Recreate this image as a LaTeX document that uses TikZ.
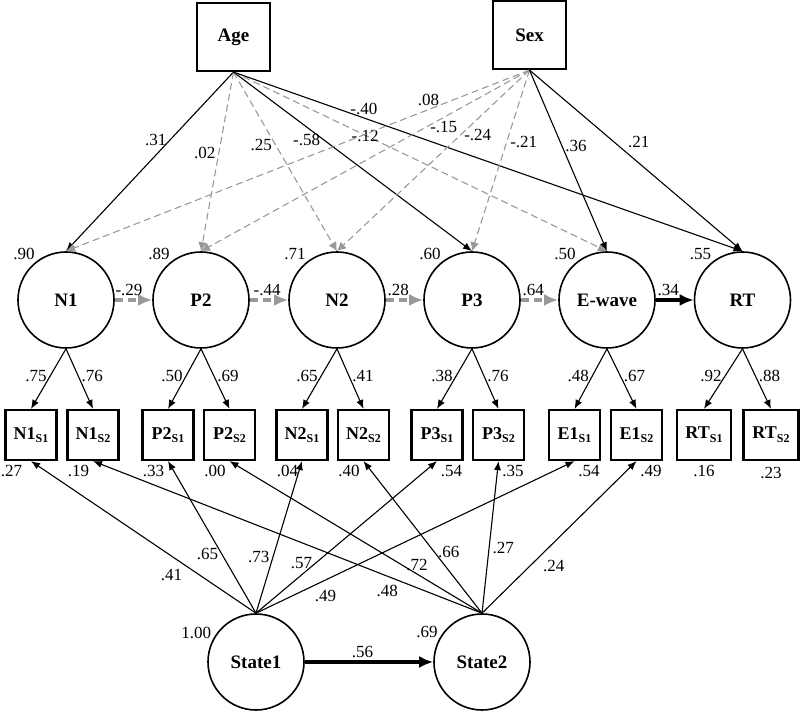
\documentclass[tikz,border=0pt]{standalone}
\usepackage{fontspec}
\setmainfont{Liberation Serif}
\usetikzlibrary{arrows.meta}
\definecolor{nsgray}{HTML}{999999}
\newcommand{\obsname}[2]{#1\raisebox{-0.45ex}{\fontsize{6}{6}\selectfont #2}}

\begin{document}
\begin{tikzpicture}[x=0.5pt,y=-0.5pt,>={Latex[length=4.5pt,width=3.6pt]},
		latent/.style={circle,draw,line width=0.8pt,minimum size=48pt,inner sep=0pt,font=\fontsize{9.5}{10}\selectfont\bfseries},
		manifest/.style={draw,line width=1.1pt,minimum width=25.5pt,minimum height=25pt,inner sep=1pt,font=\fontsize{9}{10}\selectfont\bfseries},
		covar/.style={draw,line width=1.1pt,minimum width=36.5pt,minimum height=34pt,font=\fontsize{9.5}{10}\selectfont\bfseries},
		sig/.style={line width=0.55pt,->},
		nonsig/.style={line width=0.55pt,nsgray,dash pattern=on 3.5pt off 2pt,-{Latex[length=4.5pt,width=4.5pt]}},
		bigsig/.style={line width=1.6pt,-{Latex[length=7pt,width=6pt]}},
		bignonsig/.style={line width=1.6pt,nsgray,dash pattern=on 4pt off 2.5pt,-{Latex[length=7pt,width=6pt]}},
		coef/.style={font=\fontsize{8.5}{9}\selectfont,inner sep=1.5pt,text=black},
		resid/.style={font=\fontsize{8.5}{9}\selectfont,inner sep=0.5pt},
		mresid/.style={resid,yshift=-1.5pt}]
	\useasboundingbox (0,0) rectangle (800,715);

	\node[covar] (age) at (233.5,37) {Age};
	\node[covar] (sex) at (529.5,35) {Sex};

	\node[latent] (n1) at (66,300) {N1};
	\node[latent] (p2) at (201,300) {P2};
	\node[latent] (n2) at (337,300) {N2};
	\node[latent] (p3) at (472,300) {P3};
	\node[latent] (ew) at (607,300) {E-wave};
	\node[latent] (rt) at (742.5,300) {RT};

	\node[manifest] (n1a) at (31,435) {\obsname{N1}{S1}};
	\node[manifest] (n1b) at (93,435) {\obsname{N1}{S2}};
	\node[manifest] (p2a) at (168,435) {\obsname{P2}{S1}};
	\node[manifest] (p2b) at (229.5,435) {\obsname{P2}{S2}};
	\node[manifest] (n2a) at (302,435) {\obsname{N2}{S1}};
	\node[manifest] (n2b) at (363.5,435) {\obsname{N2}{S2}};
	\node[manifest] (p3a) at (437,435) {\obsname{P3}{S1}};
	\node[manifest] (p3b) at (498.5,435) {\obsname{P3}{S2}};
	\node[manifest] (e1a) at (574.5,435) {\obsname{E1}{S1}};
	\node[manifest] (e1b) at (636.5,435) {\obsname{E1}{S2}};
	\node[manifest,minimum width=27pt] (rta) at (704,435) {\obsname{RT}{S1}};
	\node[manifest,minimum width=27.5pt] (rtb) at (771,435) {\obsname{RT}{S2}};

	\node[latent] (st1) at (256,662) {State1};
	\node[latent] (st2) at (482,662) {State2};

	\draw[sig] (age.south)--(n1.north) node[coef,pos=.38,left]{.31};
	\draw[nonsig] (age.south)--(p2.north) node[coef,pos=.45,left]{.02};
	\draw[nonsig] (age.south)--(n2.north) node[coef,pos=.405,left]{.25};
	\draw[sig] (age.south)--(p3.north) node[coef,pos=.378,left]{-.58};
	\draw[nonsig] (age.south)--(ew.north) node[coef,pos=.307,below right]{-.12};
	\draw[sig] (age.south)--(rt.north) node[coef,pos=.256,above]{-.40};

	\draw[nonsig] (sex.south)--(n1.north) node[coef,pos=.218,above]{.08};
	\draw[nonsig] (sex.south)--(p2.north) node[coef,pos=.261,below]{-.15};
	\draw[nonsig] (sex.south)--(n2.north) node[coef,pos=.357,right]{-.24};
	\draw[nonsig] (sex.south)--(p3.north) node[coef,pos=.396,right]{-.21};
	\draw[sig] (sex.south)--(ew.north) node[coef,pos=.418,right]{.36};
	\draw[sig] (sex.south)--(rt.north) node[coef,pos=.446,above right]{.21};

	\draw[bignonsig] (n1)--(p2) node[coef,pos=.38,above]{-.29};
	\draw[bignonsig] (p2)--(n2) node[coef,pos=.45,above]{-.44};
	\draw[bignonsig] (n2)--(p3) node[coef,pos=.33,above]{.28};
	\draw[bignonsig] (p3)--(ew) node[coef,pos=.33,above]{.64};
	\draw[bigsig] (ew)--(rt) node[coef,pos=.33,above]{.34};

	\draw[sig] (n1.south)--(n1a.north) node[coef,pos=.45,left]{.75};
	\draw[sig] (n1.south)--(n1b.north) node[coef,pos=.45,right]{.76};
	\draw[sig] (p2.south)--(p2a.north) node[coef,pos=.45,left]{.50};
	\draw[sig] (p2.south)--(p2b.north) node[coef,pos=.45,right]{.69};
	\draw[sig] (n2.south)--(n2a.north) node[coef,pos=.45,left]{.65};
	\draw[sig] (n2.south)--(n2b.north) node[coef,pos=.45,right]{.41};
	\draw[sig] (p3.south)--(p3a.north) node[coef,pos=.45,left]{.38};
	\draw[sig] (p3.south)--(p3b.north) node[coef,pos=.45,right]{.76};
	\draw[sig] (ew.south)--(e1a.north) node[coef,pos=.45,left]{.48};
	\draw[sig] (ew.south)--(e1b.north) node[coef,pos=.45,right]{.67};
	\draw[sig] (rt.south)--(rta.north) node[coef,pos=.45,left]{.92};
	\draw[sig] (rt.south)--(rtb.north) node[coef,pos=.45,right]{.88};

	\draw[sig] (st1.north)--(n1a.south) node[coef,pos=.313,below left]{.41};
	\draw[sig] (st1.north)--(p2a.south) node[coef,pos=.39,left]{.65};
	\draw[sig] (st1.north)--(n2a.south) node[coef,pos=.37,left]{.73};
	\draw[sig] (st1.north)--(p3a.south) node[coef,pos=.33,left]{.57};
	\draw[sig] (st1.north)--(e1a.south) node[coef,pos=.174,below right]{.49};

	\draw[sig] (st2.north)--(n1b.south) node[coef,pos=.207,below left]{.48};
	\draw[sig] (st2.north)--(p2b.south) node[coef,pos=.257,above]{.72};
	\draw[sig] (st2.north)--(n2b.south) node[coef,pos=.4,right]{.66};
	\draw[sig] (st2.north)--(p3b.south) node[coef,pos=.43,right]{.27};
	\draw[sig] (st2.north)--(e1b.south) node[coef,pos=.372,below right]{.24};

	\draw[bigsig] (st1)--(st2) node[coef,pos=.45,above]{.56};

	\node[resid,anchor=south east] at (n1.128) {.90};
	\node[resid,anchor=south east] at (p2.128) {.89};
	\node[resid,anchor=south east] at (n2.128) {.71};
	\node[resid,anchor=south east] at (p3.128) {.60};
	\node[resid,anchor=south east] at (ew.128) {.50};
	\node[resid,anchor=south east] at (rt.128) {.55};
	\node[resid,anchor=south east] at (st1.153) {1.00};
	\node[resid,anchor=south east] at (st2.152) {.69};

	\node[mresid,anchor=north west,xshift=-2.5pt] at (n1a.south west) {.27};
	\node[mresid,anchor=north west] at (n1b.south west) {.19};
	\node[mresid,anchor=north west] at (p2a.south west) {.33};
	\node[mresid,anchor=north west] at (p2b.south west) {.00};
	\node[mresid,anchor=north west] at (n2a.south west) {.04};
	\node[mresid,anchor=north west] at (n2b.south west) {.40};
	\node[mresid,anchor=north east] at (p3a.south east) {.54};
	\node[mresid,anchor=north east] at (p3b.south east) {.35};
	\node[mresid,anchor=north east] at (e1a.south east) {.54};
	\node[mresid,anchor=north east] at (e1b.south east) {.49};
	\node[mresid,anchor=north] at (rta.south) {.16};
	\node[mresid,anchor=north,yshift=-1pt] at (rtb.south) {.23};
\end{tikzpicture}
\end{document}
